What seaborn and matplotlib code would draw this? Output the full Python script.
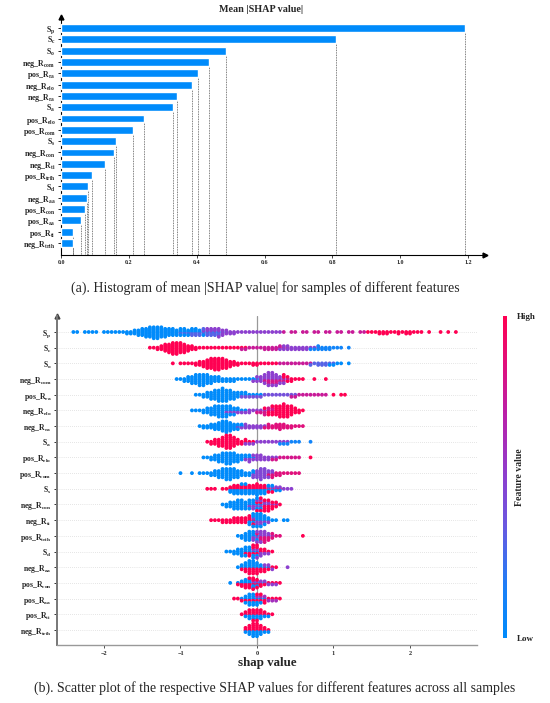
import numpy as np
import pandas as pd
import matplotlib
matplotlib.use("Agg")
import matplotlib.pyplot as plt
import seaborn as sns
from matplotlib.colors import LinearSegmentedColormap
from matplotlib.cm import ScalarMappable

# ---------------- data ----------------
features = ["S$_{\\mathrm{p}}$", "S$_{\\mathrm{c}}$", "S$_{\\mathrm{o}}$", "neg_R$_{\\mathrm{com}}$",
            "pos_R$_{\\mathrm{ra}}$", "neg_R$_{\\mathrm{elo}}$", "neg_R$_{\\mathrm{ra}}$", "S$_{\\mathrm{a}}$",
            "pos_R$_{\\mathrm{elo}}$", "pos_R$_{\\mathrm{com}}$", "S$_{\\mathrm{s}}$", "neg_R$_{\\mathrm{con}}$",
            "neg_R$_{\\mathrm{ti}}$", "pos_R$_{\\mathrm{trih}}$", "S$_{\\mathrm{d}}$", "neg_R$_{\\mathrm{aa}}$",
            "pos_R$_{\\mathrm{con}}$", "pos_R$_{\\mathrm{aa}}$", "pos_R$_{\\mathrm{ti}}$", "neg_R$_{\\mathrm{trih}}$"]

mean_abs_shap = [1.192, 0.811, 0.486, 0.436, 0.404, 0.386, 0.342, 0.330, 0.245, 0.212,
                 0.162, 0.156, 0.130, 0.091, 0.080, 0.077, 0.071, 0.059, 0.035, 0.034]

bar_ticks = [0.0, 0.2, 0.4, 0.6, 0.8, 1.0, 1.2]
swarm_ticks = [-2, -1, 0, 1, 2]

# Beeswarm, read as histograms: (feature value 0=low..1=high, first SHAP bin, counts per 0.05 bin)
BIN = 0.05
sw_S_p = [(0.0, -2.40, [1, 1, 0, 1, 1, 1, 1, 0, 1, 1, 1, 1, 1, 1, 2, 2, 3, 4, 5, 6, 7, 8, 8, 7, 6, 5, 5, 4, 4, 4, 3, 3, 3, 2, 2, 1, 1, 1, 1]),
          (0.3, -1.00, [1, 1, 1, 2, 2, 2, 2, 2, 2, 2, 2, 1, 1]),
          (0.5, -0.70, [1, 2, 2, 2, 3, 3, 2, 2, 2, 1, 1, 1, 1, 1, 1, 1, 1, 1, 1, 1, 1]),
          (0.75, 0.35, [1, 0, 1, 1, 0, 1, 1, 0, 1, 1, 0, 1, 1, 0, 1, 1, 0, 1, 1, 0, 1, 1]),
          (1.0, 1.45, [1, 1, 1, 2, 2, 2, 1, 1, 2, 1, 2, 2, 1, 1, 1, 0, 1, 0, 0, 1, 0, 1, 0, 1])]
sw_S_c = [(1.0, -1.40, [1, 1, 2, 3, 5, 6, 8, 8, 7, 6, 4, 3, 2, 1, 1, 1, 1, 1, 1, 1, 1, 1, 1, 1, 1, 1]),
          (0.75, -0.20, [1, 1, 1, 1, 1, 1, 2, 2, 2, 2, 2, 1, 1]),
          (0.5, 0.30, [1, 2, 2, 2, 2, 2, 2, 2, 1, 1, 1]),
          (0.1, 0.70, [1, 1, 2, 2, 2, 2, 1, 1, 1, 0, 1])]
sw_S_o = [(1.0, -1.10, [1, 0, 1, 1, 1, 1, 2, 3, 4, 6, 7, 8, 8, 7, 6, 4, 3, 2, 1, 1, 1, 2, 2, 1, 1, 1, 1, 1]),
          (0.75, 0.30, [1, 1, 1, 1, 1, 1, 1, 1, 1]),
          (0.3, 0.70, [1, 1, 2, 2, 2, 1, 1]),
          (0.0, 0.95, [1, 1, 1, 1, 0, 1])]
sw_neg_R_com = [(0.0, -1.05, [1, 1, 2, 3, 4, 5, 6, 6, 5, 4, 3, 3, 2, 2, 2, 2, 1, 1, 1, 1, 1, 1]),
                (0.5, -0.05, [1, 2, 3, 4, 5, 5, 4, 3, 2, 1]),
                (0.8, 0.10, [1, 2, 2, 2, 1, 1]),
                (1.0, 0.35, [2, 2, 2, 1, 1, 1, 0, 0, 1, 0, 0, 1])]
sw_pos_R_ra = [(0.0, -0.80, [1, 1, 2, 3, 4, 5, 6, 7, 6, 5, 4, 3, 2, 2, 1, 1, 1, 1]),
               (0.4, -0.20, [1, 1, 1, 1, 1, 1, 1, 1, 1, 1, 1, 1, 1, 1, 1]),
               (0.75, 0.45, [1, 1, 1, 1, 1, 1, 1, 1, 1, 1]),
               (1.0, 0.95, [0, 1, 0, 1, 1])]
sw_neg_R_elo = [(0.0, -0.85, [1, 1, 1, 2, 3, 4, 5, 6, 6, 5, 4, 3, 2, 1, 1]),
                (0.5, -0.40, [1, 1, 1, 1, 1, 1, 2, 1, 1, 1, 1]),
                (0.8, 0.00, [1, 1, 2, 2, 2]),
                (1.0, 0.10, [1, 2, 3, 5, 6, 7, 6, 5, 3, 2, 1])]
sw_neg_R_ra = [(0.0, -0.75, [1, 2, 2, 3, 4, 5, 7, 8, 6, 4, 3, 2, 1]),
               (0.5, -0.25, [1, 1, 2, 2, 2, 2, 2, 1, 1]),
               (0.85, 0.10, [1, 2, 2, 3, 4, 3, 2, 2, 1, 1, 1])]
sw_S_a = [(1.0, -0.65, [1, 2, 3, 4, 5, 7, 7, 5, 3, 2, 2, 1, 1]),
          (0.5, -0.15, [1, 1, 1, 1, 1, 1, 1, 1, 1, 1, 1, 1]),
          (0.1, 0.30, [1, 1, 1, 1, 1, 1, 0, 0, 1])]
sw_pos_R_elo = [(0.0, -0.70, [1, 1, 2, 3, 4, 5, 6, 6, 5, 4, 3, 2, 2, 1]),
                (0.5, -0.15, [1, 2, 2, 3, 3, 2, 2, 1, 1]),
                (0.8, 0.20, [1, 1, 1, 1, 1, 1, 1, 1]),
                (1.0, 0.70, [1])]
sw_pos_R_com = [(0.0, -1.00, [1, 0, 0, 1, 0, 1, 1, 1, 2, 3, 4, 5, 6, 6, 5, 4, 3, 2, 2, 2]),
                (0.45, -0.05, [2, 4, 6, 5, 3, 2]),
                (0.85, 0.15, [1, 2, 2, 2, 1, 1, 1, 1, 1])]
sw_S_s = [(1.0, -0.65, [1, 1, 1, 0, 1, 1, 2, 3, 3, 3, 3, 3, 3, 4, 3, 3, 2, 2, 1, 1]),
          (0.0, -0.35, [2, 3, 3, 4, 4, 3, 3, 4, 3, 3, 2, 2, 1, 1]),
          (0.5, 0.15, [1, 1, 1, 1, 1, 1, 1])]
sw_neg_R_con = [(0.0, -0.45, [1, 2, 3, 4, 5, 5, 4, 4, 3, 3, 2]),
                (0.5, -0.10, [1, 2, 2, 2, 2, 2, 1, 1]),
                (1.0, 0.00, [2, 3, 4, 4, 3, 2, 1])]
sw_neg_R_ti = [(1.0, -0.60, [1, 1, 1, 2, 2, 2, 3, 3, 3, 3, 3, 2]),
               (0.0, -0.10, [2, 4, 5, 5, 4, 2, 1, 1, 0, 1, 1]),
               (0.5, -0.05, [1, 2, 2, 1, 1])]
sw_pos_R_trih = [(0.0, -0.25, [1, 2, 4, 5, 3, 2]),
                 (0.5, -0.05, [2, 3, 4, 3, 2, 1]),
                 (0.85, 0.00, [1, 2, 3, 2, 2, 1, 1]),
                 (1.0, 0.60, [1])]
sw_S_d = [(0.0, -0.40, [1, 1, 2, 3, 4, 4, 3, 3, 2]),
          (1.0, -0.15, [1, 2, 3, 3, 2, 2, 1, 1]),
          (0.5, -0.05, [1, 2, 2, 1, 1])]
sw_neg_R_aa = [(0.0, -0.25, [1, 2, 3, 4, 4, 3, 2, 1, 1]),
               (1.0, -0.20, [1, 2, 3, 3, 3, 2, 2, 1, 1, 1]),
               (0.5, 0.10, [1, 1, 1, 0, 0, 0, 1])]
sw_pos_R_con = [(0.0, -0.35, [1, 0, 1, 2, 3, 3, 3, 2, 1, 1]),
                (1.0, -0.25, [1, 2, 3, 4, 4, 3, 2, 1, 1, 1, 1, 1]),
                (0.5, -0.05, [1, 1, 1, 1, 1, 1, 1])]
sw_pos_R_aa = [(0.0, -0.20, [1, 3, 5, 5, 3, 2, 1]),
               (1.0, -0.30, [1, 1, 1, 1, 1, 1, 2, 2, 2, 1, 1, 1, 1]),
               (0.6, 0.00, [1, 1, 1, 1, 1, 1])]
sw_pos_R_ti = [(1.0, -0.20, [1, 2, 3, 4, 4, 3, 2, 1, 1]),
               (0.0, -0.15, [1, 2, 2, 2, 2, 1, 1])]
sw_neg_R_trih = [(1.0, -0.15, [2, 3, 4, 4, 3, 2, 1]),
                 (0.0, -0.15, [1, 2, 3, 3, 2, 1, 1])]

swarm_rows = [sw_S_p, sw_S_c, sw_S_o, sw_neg_R_com, sw_pos_R_ra, sw_neg_R_elo, sw_neg_R_ra, sw_S_a,
              sw_pos_R_elo, sw_pos_R_com, sw_S_s, sw_neg_R_con, sw_neg_R_ti, sw_pos_R_trih, sw_S_d,
              sw_neg_R_aa, sw_pos_R_con, sw_pos_R_aa, sw_pos_R_ti, sw_neg_R_trih]

# ---------------- style ----------------
sns.set_style("white")
plt.rcParams["font.family"] = ["Liberation Serif", "DejaVu Serif"]
plt.rcParams["mathtext.fontset"] = "custom"
plt.rcParams["mathtext.rm"] = "Liberation Serif:bold"
plt.rcParams["mathtext.it"] = "Liberation Serif:bold"
plt.rcParams["mathtext.bf"] = "Liberation Serif:bold"

BLUE = "#008bfb"
cmap = LinearSegmentedColormap.from_list(
    "shap_rb", [(0.0, "#008bfb"), (0.15, "#1a80f8"), (0.35, "#6a58e0"), (0.5, "#8c3fcf"),
                (0.7, "#bb1fa8"), (0.85, "#e0107c"), (1.0, "#ff0052")])

W, H = 550, 703
fig = plt.figure(figsize=(W / 100, H / 100), dpi=100)

# ---------------- (a) bar chart ----------------
ax1 = fig.add_axes([61 / W, 1 - 255 / H, 424 / W, (255 - 17) / H])
sns.barplot(x=mean_abs_shap, y=features, orient="h", color=BLUE, width=0.7,
            saturation=1, ax=ax1, zorder=3)
n = len(features)
ax1.vlines(mean_abs_shap, np.arange(n) + 0.35, 20.1, colors="#555555",
           linestyles=(0, (1, 1)), lw=0.6, zorder=1)
ax1.set_ylim(20.06, -0.97)
ax1.set_xlim(0, 1.25)
ax1.set_xticks(bar_ticks)
ax1.set_xticklabels([f"{t:.1f}" for t in bar_ticks])
ax1.set_xlabel("")
ax1.set_ylabel("")
for s in ["top", "right"]:
    ax1.spines[s].set_visible(False)
for s in ["left", "bottom"]:
    ax1.spines[s].set_color("black")
    ax1.spines[s].set_linewidth(0.8)
ax1.tick_params(axis="y", length=2.5, width=0.7, labelsize=5.7, pad=1.5, left=True)
ax1.tick_params(axis="x", length=2, width=0.6, labelsize=4.3, pad=1.5, bottom=True)
for t in ax1.get_yticklabels() + ax1.get_xticklabels():
    t.set_fontweight("bold")
ax1.plot(0, 1, marker="^", color="black", ms=3.5, transform=ax1.transAxes, clip_on=False)
ax1.plot(1, 0, marker=">", color="black", ms=3.5, transform=ax1.transAxes, clip_on=False)
fig.text(261 / W, 1 - 10 / H, "Mean |SHAP value|", ha="center", va="center",
         fontsize=7.3, fontweight="bold")
fig.text(265 / W, 1 - 288 / H,
         "(a). Histogram of mean |SHAP value| for samples of different features",
         ha="center", va="center", fontsize=10)

# ---------------- (b) beeswarm ----------------
recs = []
for r, groups in enumerate(swarm_rows):
    bins = {}
    for fval, x0, counts in groups:
        k0 = int(round(x0 / BIN))
        for j, c in enumerate(counts):
            bins.setdefault(k0 + j, []).append([fval] * c)
    row_pts = []
    for key in sorted(bins):
        lists = [list(l) for l in bins[key]]
        merged = []
        while any(lists):
            for l in lists:
                if l:
                    merged.append(l.pop())
        for k, f in enumerate(merged):
            off = ((k + 1) // 2) * (1 if k % 2 else -1)
            row_pts.append((round(key * BIN, 3), off, f))
    maxoff = max(abs(p[1]) for p in row_pts)
    scale = 0.40 / max(maxoff, 1)
    for x, off, f in row_pts:
        recs.append({"shap": x, "row": r + off * scale, "feature": f})
df = pd.DataFrame(recs)

ax2 = fig.add_axes([57 / W, 1 - 645 / H, 420 / W, (645 - 316) / H])
for i in range(n):
    ax2.axhline(i, color="#cccccc", lw=0.5, dashes=(1, 2), zorder=-1)
ax2.axvline(0, color="#999999", lw=0.9, zorder=-1)
sns.scatterplot(data=df, x="shap", y="row", hue="feature", palette=cmap, hue_norm=(0, 1),
                s=7.5, linewidth=0, legend=False, ax=ax2, zorder=3)
ax2.set_ylim(19.96, -1.02)
ax2.set_xlim(-2.614, 2.876)
ax2.set_yticks(range(n))
ax2.set_yticklabels(features)
ax2.set_xticks(swarm_ticks)
ax2.set_ylabel("")
ax2.set_xlabel("shap value", fontsize=9.4, fontweight="bold", labelpad=1)
for s in ["top", "right"]:
    ax2.spines[s].set_visible(False)
ax2.spines["left"].set_color("#777777")
ax2.spines["left"].set_linewidth(1.4)
ax2.spines["bottom"].set_color("#999999")
ax2.spines["bottom"].set_linewidth(1.0)
ax2.tick_params(axis="y", length=2.5, width=0.7, labelsize=5.6, pad=1.5, left=True, color="#333333")
ax2.tick_params(axis="x", length=2.5, width=0.6, labelsize=4.5, pad=1.5, bottom=True, color="#333333")
for t in ax2.get_yticklabels() + ax2.get_xticklabels():
    t.set_fontweight("bold")
ax2.plot(0, 1, marker="^", color="#444444", ms=3.5, transform=ax2.transAxes, clip_on=False)

cax = fig.add_axes([503 / W, 1 - 638 / H, 4 / W, 322 / H])
sm = ScalarMappable(cmap=cmap, norm=plt.Normalize(0, 1))
cb = fig.colorbar(sm, cax=cax, ticks=[0, 1])
cb.set_ticklabels(["Low", "High"])
cb.outline.set_visible(False)
cax.tick_params(length=0, labelsize=6.5, pad=7)
for t in cax.get_yticklabels():
    t.set_fontweight("bold")
cax.text(4.25, 0.5, "Feature value", rotation=90, ha="center", va="center",
         transform=cax.transAxes, fontsize=7, fontweight="bold")

fig.text(275 / W, 1 - 688 / H,
         "(b). Scatter plot of the respective SHAP values for different features across all samples",
         ha="center", va="center", fontsize=10)

fig.savefig("out.png", dpi=100)
